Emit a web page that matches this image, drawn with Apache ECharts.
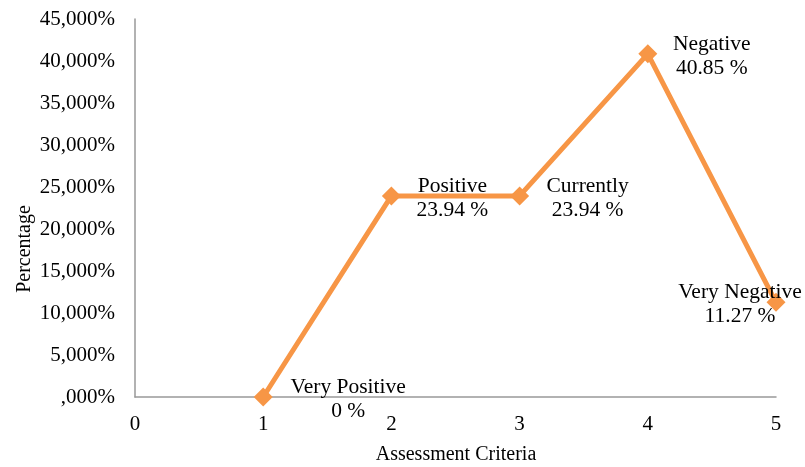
<!DOCTYPE html>
<html>
<head>
<meta charset="utf-8">
<script src="https://cdn.jsdelivr.net/npm/echarts@6/dist/echarts.min.js"></script>
<style>
  html, body { margin: 0; padding: 0; background: #fff; }
  #chart { width: 805px; height: 467px; }
</style>
</head>
<body>
<div id="chart"></div>
<script>
// Assessment criteria positions and their share of responses (%)
const criteria = [1, 2, 3, 4, 5];
const criteriaNames = ['Very Positive', 'Positive', 'Currently', 'Negative', 'Very Negative'];
const percentages = [0, 23.94, 23.94, 40.85, 11.27];
const valueTexts = ['0 %', '23.94 %', '23.94 %', '40.85 %', '11.27 %'];
// horizontal label shift from each marker (px)
const labelShiftX = [85, 61, 68, 64, -36];

const font = 'Liberation Serif, Times New Roman, serif';
const lineColor = '#F79646';
const axisColor = '#999999';

const seriesData = criteria.map((x, i) => ({
  value: [x, percentages[i]],
  label: {
    show: true,
    position: 'inside',
    offset: [labelShiftX[i], 2],
    formatter: criteriaNames[i] + '\n' + valueTexts[i]
  }
}));

const chart = echarts.init(document.getElementById('chart'));
chart.setOption({
  animation: false,
  backgroundColor: '#fff',
  grid: {
    left: 135, right: 29, top: 19, bottom: 70,
    containLabel: false,
    outerBoundsMode: 'none'
  },
  xAxis: {
    type: 'value',
    min: 0, max: 5, interval: 1,
    axisLine: { show: true, onZero: false, lineStyle: { color: axisColor, width: 1.5 } },
    axisTick: { show: false },
    splitLine: { show: false },
    axisLabel: { fontFamily: font, fontSize: 21, color: '#000', margin: 17 }
  },
  yAxis: {
    type: 'value',
    min: 0, max: 45, interval: 5,
    axisLine: { show: true, lineStyle: { color: axisColor, width: 1.5 } },
    axisTick: { show: false },
    splitLine: { show: false },
    axisLabel: {
      fontFamily: font, fontSize: 21, color: '#000', margin: 20,
      formatter: v => (v === 0 ? '' : v) + ',000%'
    }
  },
  graphic: [{
    type: 'text',
    x: 25, y: 249,
    rotation: Math.PI / 2,
    style: {
      text: 'Percentage',
      font: '20px ' + font,
      fill: '#000',
      align: 'center',
      verticalAlign: 'middle'
    }
  }, {
    type: 'text',
    x: 456, y: 455,
    style: {
      text: 'Assessment Criteria',
      font: '20px ' + font,
      fill: '#000',
      align: 'center',
      verticalAlign: 'middle'
    }
  }],
  series: [{
    type: 'line',
    data: seriesData,
    symbol: 'diamond',
    symbolSize: 19,
    lineStyle: { color: lineColor, width: 5 },
    itemStyle: { color: lineColor },
    label: {
      fontFamily: font, fontSize: 21.5, color: '#000',
      lineHeight: 24, align: 'center', verticalAlign: 'middle'
    },
    z: 3
  }]
});
</script>
</body>
</html>
